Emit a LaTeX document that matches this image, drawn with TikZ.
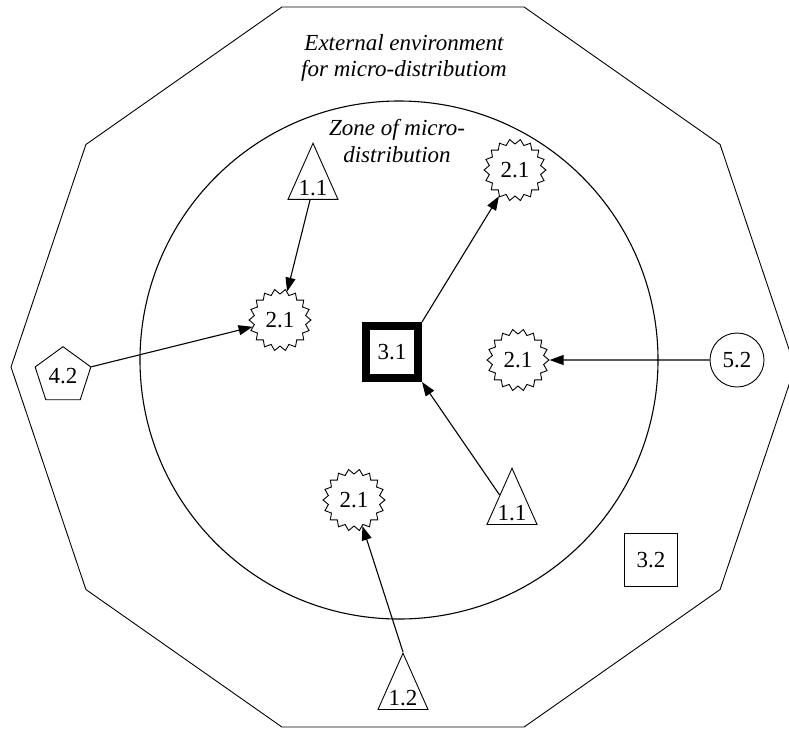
\documentclass[tikz,border=0pt]{standalone}
\usepackage{fontspec}
\setmainfont{Liberation Serif}
\usetikzlibrary{shapes.geometric,arrows.meta}

\begin{document}
\begin{tikzpicture}[x=1pt,y=-1pt,
  lbl/.style={font=\fontsize{23}{27}\selectfont, inner sep=0pt},
  note/.style={font=\fontsize{23}{26.5}\selectfont\itshape, align=center, inner sep=0pt},
  thin/.style={line width=0.9pt},
  burst/.style={lbl, thin, draw, star, star points=18, star point ratio=0.84, minimum size=52pt},
  tri/.style={lbl, thin, draw, isosceles triangle, shape border rotate=90,
    isosceles triangle stretches, inner xsep=0pt, inner ysep=3pt, minimum width=50pt, minimum height=52pt},
  box/.style={lbl, thin, draw, rectangle, minimum size=53pt},
  link/.style={-{Triangle[length=14pt,width=10pt]}, line width=1.1pt}]

\useasboundingbox (0,0) rectangle (789,729);
\clip (0,0) rectangle (789,729);

% outer decagon: external environment
\draw[thin] (795,367) -- (720.1,144.5) -- (524.1,7) -- (281.9,7) -- (85.9,144.5)
  -- (11,367) -- (85.9,589.5) -- (281.9,727) -- (524.1,727) -- (720.1,589.5) -- cycle;

% inner circle: zone of micro-distribution
\draw[line width=1.1pt] (399,360) circle[radius=259pt];

\node[note] (ext) at (404,58) {External environment\\for micro-distributiom};
\node[note] (zone) at (397,141) {Zone of micro-\\distribution};

% elements
\node[box, line width=8pt, minimum size=52pt] (sq) at (392,352) {3.1};
\node[box] (sq32) at (651,560) {3.2};
\node[tri] (tri1) at (313,188) {1.1};
\node[tri] (tri2) at (512,513) {1.1};
\node[tri] (tri3) at (403,698) {1.2};
\node[burst] (sb1) at (280,320) {2.1};
\node[burst] (sb2) at (515,170) {2.1};
\node[burst] (sb3) at (518,360) {2.1};
\node[burst] (sb4) at (354,500) {2.1};
\node[lbl, thin, draw, regular polygon, regular polygon sides=5, minimum size=58.6pt] (pent) at (63,376) {4.2};
\node[lbl, thin, draw, circle, minimum size=54pt] (c52) at (737,360) {5.2};

% connectors
\draw[link] (tri1) -- (sb1);
\draw[link] (pent.corner 5) -- (sb1);
\draw[link] (sq.north east) -- (sb2);
\draw[link] (c52) -- (sb3);
\draw[link] (tri2) -- (sq.south east);
\draw[link] (tri3.apex) -- (sb4);
\end{tikzpicture}
\end{document}
